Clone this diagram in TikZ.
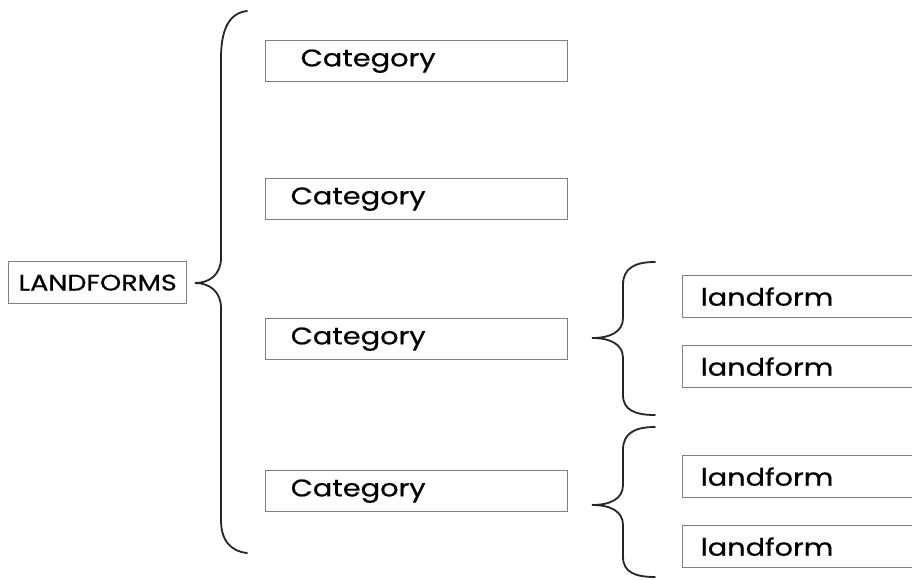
\documentclass[tikz,border=0pt]{standalone}
\usepackage{fontspec}
\setmainfont{Poppins}[FakeStretch=1.2, FakeBold=0.6]
\begin{document}
\begin{tikzpicture}[x=1pt,y=-1pt,
  boxcol/.style={draw=black!50, line width=1.3pt},
  catbox/.style={boxcol, rectangle, anchor=north west, minimum height=41pt, text width=252pt, inner xsep=25pt, align=left, font=\fontsize{24}{28}\selectfont},
  leafbox/.style={boxcol, rectangle, anchor=north west, minimum height=42pt, text width=224pt, inner xsep=18pt, align=left, font=\fontsize{24}{28}\selectfont},
  bracestyle/.style={draw=black!85, line width=1.8pt, line cap=round}]
\useasboundingbox (0,0) rectangle (912,579);
\clip (0,0) rectangle (912,579);
\fill[white] (0,0) rectangle (912,579);
% root
\node[boxcol, rectangle, anchor=north west, minimum width=178pt, minimum height=42pt, inner sep=0pt, font=\fontsize{22.5}{26}\selectfont] (root) at (8,261) {LANDFORMS};
% categories
\node[catbox, text width=232pt, inner xsep=35pt] (c1) at (265,40) {Category};
\node[catbox] (c2) at (265,178) {Category};
\node[catbox] (c3) at (265,318) {Category};
\node[catbox] (c4) at (265,470) {Category};
% leaves
\node[leafbox] (l1) at (682,275) {landform};
\node[leafbox] (l2) at (682,345) {landform};
\node[leafbox] (l3) at (682,455) {landform};
\node[leafbox] (l4) at (682,525) {landform};
% big brace
\coordinate (bt) at (247,11);
\coordinate (bm) at (195,283);
\coordinate (bb) at (247,553);
\draw[bracestyle] (bt) .. controls (230,13) and (221,28) .. (221,58) -- (221,258)
  .. controls (221,274) and (210,283) .. (bm)
  .. controls (210,283) and (221,292) .. (221,308) -- (221,520)
  .. controls (221,540) and (230,551) .. (bb);
% small brace 1
\coordinate (s1t) at (655,262);
\coordinate (s1m) at (592,338);
\coordinate (s1b) at (655,415);
\draw[bracestyle] (s1t) .. controls (635,262) and (623,268) .. (623,285) -- (623,318)
  .. controls (623,332) and (610,338) .. (s1m)
  .. controls (610,338) and (623,344) .. (623,358) -- (623,395)
  .. controls (623,410) and (635,415) .. (s1b);
% small brace 2
\coordinate (s2t) at (655,427);
\coordinate (s2m) at (592,505);
\coordinate (s2b) at (655,577);
\draw[bracestyle] (s2t) .. controls (635,427) and (623,433) .. (623,450) -- (623,485)
  .. controls (623,499) and (610,505) .. (s2m)
  .. controls (610,505) and (623,511) .. (623,525) -- (623,557)
  .. controls (623,572) and (635,577) .. (s2b);
\end{tikzpicture}
\end{document}
